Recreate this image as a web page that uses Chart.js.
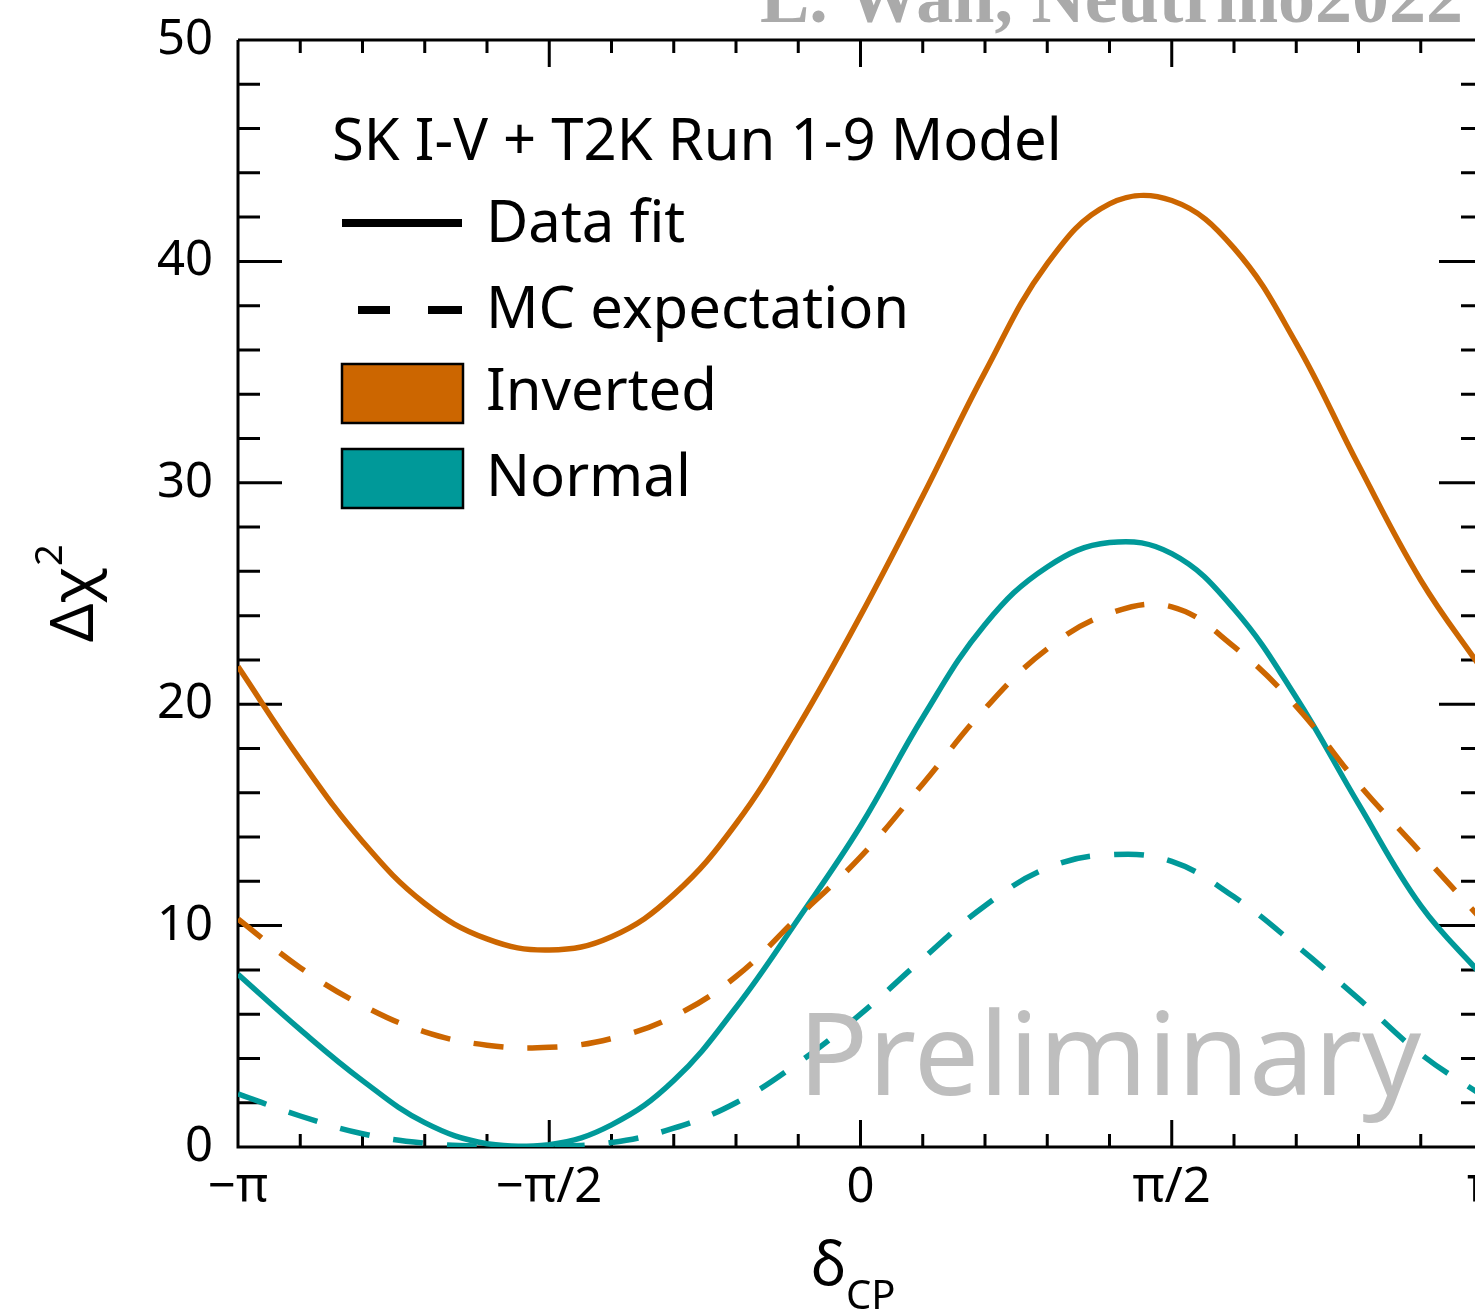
<!DOCTYPE html>
<html>
<head>
<meta charset="utf-8">
<script src="https://cdn.jsdelivr.net/npm/chart.js@4.4.0/dist/chart.umd.min.js"></script>
<style>
  html, body { margin: 0; padding: 0; background: #fff; overflow: hidden; width: 1475px; height: 1313px; }
  #wrap { position: absolute; left: 0; top: 0; width: 1530px; height: 1313px; }
</style>
</head>
<body>
<div id="wrap"><canvas id="chart" width="1530" height="1313"></canvas></div>
<script>
// δCP in units of π
const deltaCP = [-1.0, -0.9, -0.8, -0.7, -0.6, -0.5, -0.4, -0.3, -0.2, -0.1, 0.0,
                 0.1, 0.2, 0.3, 0.4, 0.5, 0.6, 0.7, 0.8, 0.9, 1.0];

// Δχ² values
const invertedFit = [21.7, 17.5, 13.8, 11.0, 9.4, 8.9, 9.5, 11.4, 14.6, 19.0, 24.0,
                     29.4, 35.0, 39.9, 42.6, 42.75, 40.6, 36.3, 30.8, 25.6, 21.5];
const invertedMC  = [10.3, 8.1, 6.4, 5.2, 4.6, 4.5, 4.9, 5.9, 7.7, 10.4, 13.1,
                     16.4, 19.8, 22.5, 24.1, 24.4, 22.6, 19.9, 16.4, 13.3, 10.2];
const normalFit   = [7.8, 5.3, 3.0, 1.1, 0.15, 0.1, 1.0, 3.0, 6.3, 10.3, 14.5,
                     19.4, 23.6, 26.2, 27.3, 26.8, 24.3, 20.3, 15.5, 10.9, 7.7];
const normalMC    = [2.4, 1.4, 0.6, 0.17, 0.03, 0.03, 0.2, 0.85, 2.0, 3.8, 6.0,
                     8.5, 10.9, 12.6, 13.2, 12.9, 11.3, 9.1, 6.7, 4.2, 2.3];

// tick labels
const xTickValues = [-1, -0.5, 0, 0.5, 1];
const xTickLabels = ['−π', '−π/2', '0', 'π/2', 'π'];
const yTickStep = 10;

const ORANGE = '#cc6600';
const TEAL = '#009999';
const FONT = "'Noto Sans', 'Open Sans', sans-serif";

const toPoints = ys => deltaCP.map((x, i) => ({ x: x, y: ys[i] }));

// 축 테두리와 안쪽 눈금
const framePlugin = {
  id: 'frame',
  beforeDatasetsDraw(chart) {
    const ctx = chart.ctx;
    const a = chart.chartArea;
    const xs = chart.scales.x;
    const ys = chart.scales.y;
    ctx.save();
    ctx.strokeStyle = '#000';
    ctx.lineWidth = 3;
    ctx.beginPath();
    ctx.moveTo(a.left, a.top); ctx.lineTo(a.left, a.bottom);
    ctx.lineTo(a.right, a.bottom); ctx.lineTo(a.right, a.top);
    ctx.lineTo(a.left, a.top);
    for (let i = -10; i <= 10; i++) {
      const px = xs.getPixelForValue(i / 10);
      const len = i % 5 === 0 ? 27 : 13;
      ctx.moveTo(px, a.bottom); ctx.lineTo(px, a.bottom - len);
      ctx.moveTo(px, a.top); ctx.lineTo(px, a.top + len);
    }
    for (let v = 0; v <= 50; v += 2) {
      const py = ys.getPixelForValue(v);
      const len = v % 10 === 0 ? 44 : 22;
      ctx.moveTo(a.left, py); ctx.lineTo(a.left + len, py);
      ctx.moveTo(a.right, py); ctx.lineTo(a.right - len, py);
    }
    ctx.stroke();
    ctx.restore();
  }
};

// 범례, 축 제목, 워터마크
const textPlugin = {
  id: 'texts',
  afterDatasetsDraw(chart) {
    const ctx = chart.ctx;
    ctx.save();

    // Preliminary
    ctx.fillStyle = '#bebebe';
    ctx.font = `116px ${FONT}`;
    ctx.textBaseline = 'alphabetic';
    ctx.textAlign = 'left';
    ctx.fillText('Preliminary', 798, 1095);

    // legend
    ctx.fillStyle = '#000';
    ctx.font = `58px ${FONT}`;
    ctx.fillText('SK I-V + T2K Run 1-9 Model', 332, 160);
    ctx.fillText('Data fit', 486, 242);
    ctx.fillText('MC expectation', 486, 328);
    ctx.fillText('Inverted', 486, 410);
    ctx.fillText('Normal', 486, 496);

    ctx.strokeStyle = '#000';
    ctx.lineWidth = 8;
    ctx.beginPath();
    ctx.moveTo(342, 223); ctx.lineTo(462, 223);
    ctx.moveTo(358, 310); ctx.lineTo(390, 310);
    ctx.moveTo(428, 310); ctx.lineTo(462, 310);
    ctx.stroke();

    ctx.lineWidth = 2.5;
    ctx.fillStyle = ORANGE;
    ctx.fillRect(342, 364, 121, 59);
    ctx.strokeRect(342, 364, 121, 59);
    ctx.fillStyle = TEAL;
    ctx.fillRect(342, 449, 121, 59);
    ctx.strokeRect(342, 449, 121, 59);

    // x title: δ_CP
    ctx.fillStyle = '#000';
    ctx.font = `60px ${FONT}`;
    ctx.fillText('δ', 811, 1285);
    ctx.font = `40px ${FONT}`;
    ctx.fillText('CP', 846, 1309);

    // y title: Δχ²
    ctx.save();
    ctx.translate(93, 642);
    ctx.rotate(-Math.PI / 2);
    ctx.font = `60px ${FONT}`;
    ctx.fillText('Δχ', 0, 0);
    const w = ctx.measureText('Δχ').width;
    ctx.font = `38px ${FONT}`;
    ctx.fillText('2', w + 2, -31);
    ctx.restore();

    // cropped header
    ctx.fillStyle = '#aaaaaa';
    ctx.font = "bold 74px 'Liberation Serif', 'DejaVu Serif', serif";
    ctx.fillText('L. Wan, Neutrino2022', 760, 22);

    ctx.restore();
  }
};

const lineSet = (label, ys, color, dash) => ({
  label: label,
  data: toPoints(ys),
  borderColor: color,
  borderWidth: 5.5,
  borderDash: dash,
  pointRadius: 0,
  tension: 0.4,
  fill: false
});

new Chart(document.getElementById('chart').getContext('2d'), {
  type: 'line',
  data: {
    datasets: [
      lineSet('Inverted data fit', invertedFit, ORANGE, []),
      lineSet('Inverted MC expectation', invertedMC, ORANGE, [30, 24]),
      lineSet('Normal data fit', normalFit, TEAL, []),
      lineSet('Normal MC expectation', normalMC, TEAL, [30, 24])
    ]
  },
  options: {
    responsive: false,
    animation: false,
    devicePixelRatio: 1,
    layout: { padding: { top: 40, right: 47, left: 0, bottom: 0 } },
    plugins: {
      legend: { display: false },
      tooltip: { enabled: false }
    },
    scales: {
      x: {
        type: 'linear',
        min: -1,
        max: 1,
        grid: { display: false, drawTicks: false },
        border: { display: false },
        afterBuildTicks: scale => {
          scale.ticks = xTickValues.map(v => ({ value: v }));
        },
        ticks: {
          autoSkip: false,
          maxRotation: 0,
          padding: 12,
          color: '#000',
          font: { family: FONT, size: 49 },
          callback: value => xTickLabels[xTickValues.indexOf(value)]
        },
        afterFit: scale => {
          scale.height = 166;
          scale.paddingLeft = 0;
          scale.paddingRight = 0;
        }
      },
      y: {
        min: 0,
        max: 50,
        grid: { display: false, drawTicks: false },
        border: { display: false },
        ticks: {
          stepSize: yTickStep,
          padding: 25,
          color: '#000',
          font: { family: FONT, size: 49 }
        },
        afterFit: scale => {
          scale.width = 238;
          scale.paddingTop = 0;
          scale.paddingBottom = 0;
        }
      }
    }
  },
  plugins: [framePlugin, textPlugin]
});
</script>
</body>
</html>
